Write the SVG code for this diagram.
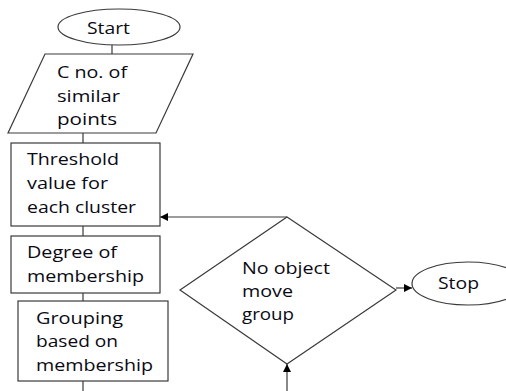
<svg xmlns="http://www.w3.org/2000/svg" width="506" height="391" viewBox="0 0 506 391">
<style>
.shape{fill:#fff;stroke:#3a3a3a;stroke-width:1.2}
.conn{fill:none;stroke:#3a3a3a;stroke-width:1.2}
text{font-family:"Open Sans","Liberation Sans",sans-serif;font-size:16px;fill:#0a0a14}
</style>
<defs>
<marker id="arr" viewBox="0 0 10 10" refX="10" refY="5" markerWidth="8" markerHeight="8" markerUnits="userSpaceOnUse" orient="auto">
<path d="M0,0 L10,5 L0,10 z" fill="#000"/>
</marker>
</defs>
<rect width="506" height="391" fill="#fff"/>
<g id="connectors">
<line class="conn" x1="112" y1="45" x2="112" y2="54"/>
<line class="conn" x1="83" y1="133" x2="83" y2="143"/>
<line class="conn" x1="83" y1="226" x2="83" y2="236"/>
<line class="conn" x1="83" y1="293" x2="83" y2="301"/>
<line class="conn" x1="83" y1="381" x2="83" y2="391"/>
<line class="conn" x1="287" y1="217" x2="160" y2="217" marker-end="url(#arr)"/>
<line class="conn" x1="287" y1="391" x2="287" y2="364" stroke-width="2" marker-end="url(#arr)"/>
<line class="conn" x1="396" y1="288" x2="412" y2="288" marker-end="url(#arr)"/>
</g>
<g id="start">
<ellipse class="shape" cx="119" cy="27" rx="61" ry="18"/>
<text x="87" y="34" textLength="43" lengthAdjust="spacingAndGlyphs">Start</text>
</g>
<g id="input">
<polygon class="shape" points="45,54 193,54 156,133 8,133"/>
<text x="57" y="78" textLength="70" lengthAdjust="spacingAndGlyphs">C no. of</text>
<text x="57" y="102" textLength="63" lengthAdjust="spacingAndGlyphs">similar</text>
<text x="57" y="125" textLength="60" lengthAdjust="spacingAndGlyphs">points</text>
</g>
<g id="threshold">
<rect class="shape" x="11" y="143" width="149" height="83"/>
<text x="27" y="165" textLength="92" lengthAdjust="spacingAndGlyphs">Threshold</text>
<text x="27" y="189" textLength="81" lengthAdjust="spacingAndGlyphs">value for</text>
<text x="27" y="213" textLength="109" lengthAdjust="spacingAndGlyphs">each cluster</text>
</g>
<g id="degree">
<rect class="shape" x="11" y="236" width="149" height="57"/>
<text x="27" y="258" textLength="90" lengthAdjust="spacingAndGlyphs">Degree of</text>
<text x="27" y="282" textLength="117" lengthAdjust="spacingAndGlyphs">membership</text>
</g>
<g id="grouping">
<rect class="shape" x="18" y="301" width="150" height="80"/>
<text x="36" y="324" textLength="87" lengthAdjust="spacingAndGlyphs">Grouping</text>
<text x="36" y="347" textLength="82" lengthAdjust="spacingAndGlyphs">based on</text>
<text x="36" y="371" textLength="117" lengthAdjust="spacingAndGlyphs">membership</text>
</g>
<g id="decision">
<polygon class="shape" points="287,217 396,290 287,364 180,290"/>
<text x="242" y="274" textLength="88" lengthAdjust="spacingAndGlyphs">No object</text>
<text x="242" y="297" textLength="51" lengthAdjust="spacingAndGlyphs">move</text>
<text x="242" y="320" textLength="52" lengthAdjust="spacingAndGlyphs">group</text>
</g>
<g id="stop">
<ellipse class="shape" cx="468" cy="283.5" rx="56" ry="21.5"/>
<text x="438" y="289" textLength="41" lengthAdjust="spacingAndGlyphs">Stop</text>
</g>
</svg>
